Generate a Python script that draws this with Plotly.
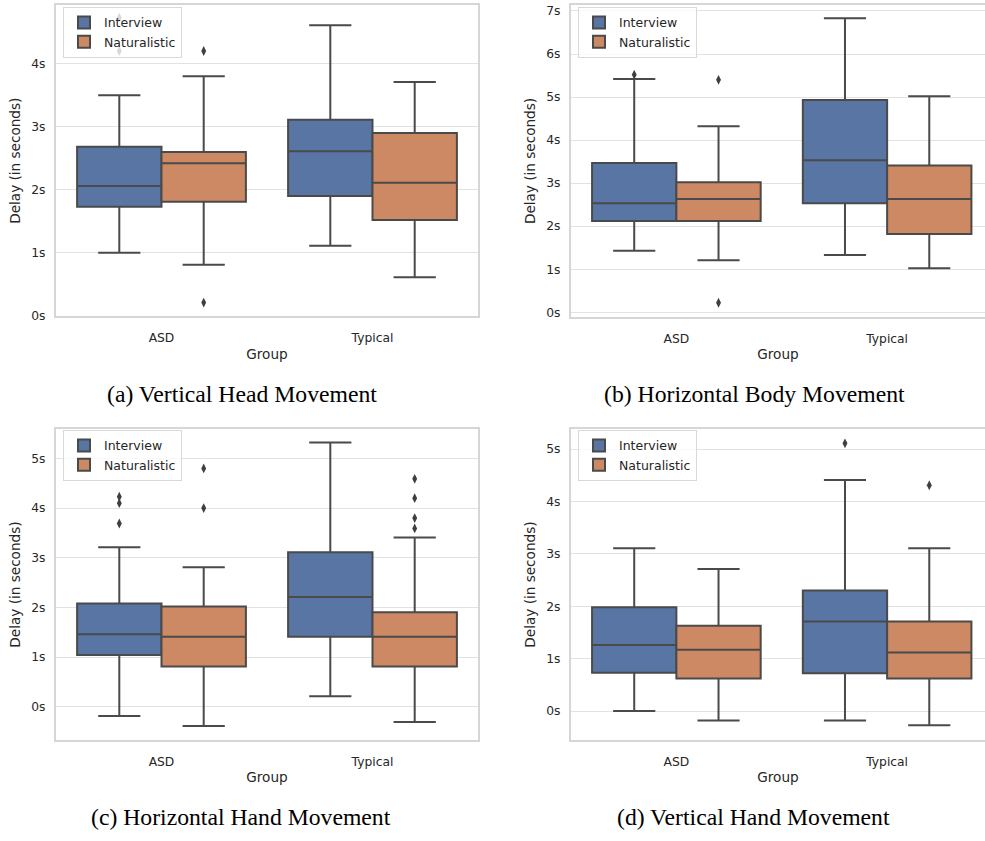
import plotly.graph_objects as go

# ---------------- data ----------------
groups = ["ASD", "Typical"]
conditions = ["Interview", "Naturalistic"]
captions = ["(a) Vertical Head Movement", "(b) Horizontal Body Movement",
            "(c) Horizontal Hand Movement", "(d) Vertical Hand Movement"]

# each stat list: [Interview, Naturalistic] x [ASD, Typical]
head_low = [[1.00, 1.11], [0.81, 0.61]]
head_q1 = [[1.73, 1.90], [1.81, 1.52]]
head_med = [[2.06, 2.61], [2.42, 2.11]]
head_q3 = [[2.68, 3.11], [2.60, 2.90]]
head_high = [[3.50, 4.61], [3.80, 3.71]]
head_out = [[[4.20, 4.73], []], [[4.20, 0.21], []]]

body_low = [[1.43, 1.33], [1.21, 1.02]]
body_q1 = [[2.12, 2.53], [2.12, 1.82]]
body_med = [[2.53, 3.53], [2.63, 2.63]]
body_q3 = [[3.47, 4.93], [3.02, 3.41]]
body_high = [[5.42, 6.83], [4.32, 5.02]]
body_out = [[[5.52], []], [[5.40, 0.22], []]]

hhand_low = [[-0.19, 0.21], [-0.39, -0.31]]
hhand_q1 = [[1.04, 1.41], [0.81, 0.81]]
hhand_med = [[1.46, 2.21], [1.41, 1.41]]
hhand_q3 = [[2.08, 3.11], [2.02, 1.90]]
hhand_high = [[3.21, 5.32], [2.81, 3.41]]
hhand_out = [[[4.23, 4.10, 3.69], []], [[4.80, 4.00], [4.59, 4.20, 3.80, 3.59]]]

vhand_low = [[0.00, -0.18], [-0.18, -0.27]]
vhand_q1 = [[0.73, 0.72], [0.62, 0.62]]
vhand_med = [[1.26, 1.71], [1.17, 1.12]]
vhand_q3 = [[1.98, 2.30], [1.63, 1.71]]
vhand_high = [[3.11, 4.41], [2.71, 3.11]]
vhand_out = [[[], [5.11]], [[], [4.31]]]

y_ranges = [[-0.01, 4.93], [-0.11, 7.14], [-0.67, 5.59], [-0.55, 5.38]]

panels = [
    (head_low, head_q1, head_med, head_q3, head_high, head_out),
    (body_low, body_q1, body_med, body_q3, body_high, body_out),
    (hhand_low, hhand_q1, hhand_med, hhand_q3, hhand_high, hhand_out),
    (vhand_low, vhand_q1, vhand_med, vhand_q3, vhand_high, vhand_out),
]

# ---------------- style ----------------
fills = ["#5975a4", "#cc8963"]
edge = "#4a4a4a"
txt = "#262626"
spine = "#d6d6d6"
grid = "#e2e2e2"
W, H = 985, 841
BOX_W = 0.4

# pixel layout of the four plot areas: (left, right, top, bottom)
areas = [(56, 478, 4, 318.5), (571, 992.5, 4, 319), (56, 478, 432.3, 746), (571, 992.5, 432.3, 746)]
legend_pos = [(63, 6), (578, 6), (63, 433), (578, 433)]
caption_pos = [(241.5, 397), (754, 397), (241, 824), (753, 824)]


def fx(px):
    return px / W


def fy(py):
    return 1 - py / H


fig = go.Figure()

for p, (low, q1, med, q3, high, outs) in enumerate(panels):
    ax = "" if p == 0 else str(p + 1)
    leg = "legend" if p == 0 else "legend%d" % (p + 1)
    for c, cond in enumerate(conditions):
        xs = [g + (c - 0.5) * BOX_W for g in range(len(groups))]
        fig.add_trace(go.Box(
            x=xs, q1=q1[c], median=med[c], q3=q3[c],
            lowerfence=low[c], upperfence=high[c],
            width=BOX_W, whiskerwidth=0.5, boxpoints=False,
            fillcolor=fills[c], line=dict(color=edge, width=2),
            name=cond, legend=leg, showlegend=True,
            xaxis="x" + ax, yaxis="y" + ax,
        ))
        ox, oy = [], []
        for g in range(len(groups)):
            for v in outs[c][g]:
                ox.append(xs[g])
                oy.append(v)
        if ox:
            fig.add_trace(go.Scatter(
                x=ox, y=oy, mode="markers", showlegend=False,
                marker=dict(symbol="diamond-tall", size=7, color="#3f3f3f"),
                xaxis="x" + ax, yaxis="y" + ax,
            ))

layout = dict(
    width=W, height=H, margin=dict(l=0, r=0, t=0, b=0),
    paper_bgcolor="white", plot_bgcolor="white",
    font=dict(family="DejaVu Sans", color=txt, size=12.3),
    boxmode="overlay",
)

annotations = []
for p in range(4):
    ax = "" if p == 0 else str(p + 1)
    L, R, T, B = areas[p]
    full_box = p in (0, 2)
    d1 = min(fx(R), 1.0)
    # visible right end of the category axis when the panel is cut at the page edge
    xr = -0.5 + 2.0 * (d1 * W - L) / (R - L)
    layout["xaxis" + ax] = dict(
        domain=[fx(L), d1], anchor="y" + ax,
        range=[-0.5, xr],
        tickvals=list(range(len(groups))), ticktext=groups,
        showgrid=False, zeroline=False,
        showline=True, mirror=True, linecolor=spine, linewidth=2,
        ticks="", ticklabelstandoff=9,
        tickfont=dict(size=12.3, color=txt),
        title=dict(text="Group", font=dict(size=13.6, color=txt), standoff=5),
    )
    layout["yaxis" + ax] = dict(
        domain=[fy(B), fy(T)], anchor="x" + ax,
        range=y_ranges[p], dtick=1, tick0=0, ticksuffix="s",
        showgrid=True, gridcolor=grid, gridwidth=1.4, zeroline=False,
        showline=True, mirror=full_box, linecolor=spine, linewidth=2,
        ticks="", ticklabelstandoff=6,
        tickfont=dict(size=12.3, color=txt),
        title=dict(text="Delay (in seconds)", font=dict(size=13.6, color=txt), standoff=8),
    )
    lx, ly = legend_pos[p]
    layout["legend" if p == 0 else "legend%d" % (p + 1)] = dict(
        x=fx(lx), y=fy(ly), xanchor="left", yanchor="top",
        bgcolor="rgba(255,255,255,0.8)", bordercolor="#d9d9d9", borderwidth=1,
        font=dict(size=12.5, color=txt, family="DejaVu Sans"),
        tracegroupgap=0,
    )
    cx, cy = caption_pos[p]
    annotations.append(dict(
        text=captions[p], x=fx(cx), y=fy(cy), xref="paper", yref="paper",
        xanchor="center", yanchor="middle", showarrow=False,
        font=dict(family="Liberation Serif", size=23.7, color="black"),
    ))

layout["annotations"] = annotations
fig.update_layout(**layout)
fig.write_html("out.html", config={"displayModeBar": False},
               post_script="document.body.style.margin='0';")
